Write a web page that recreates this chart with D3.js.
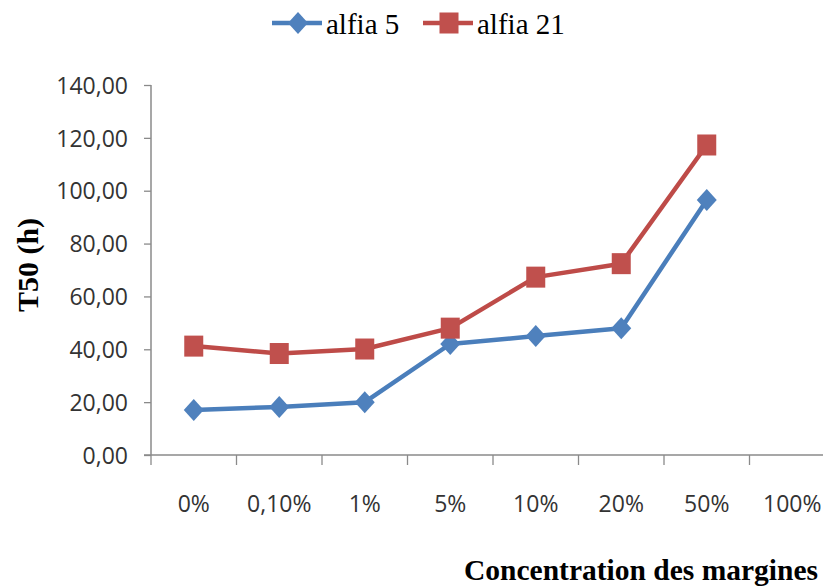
<!DOCTYPE html>
<html>
<head>
<meta charset="utf-8">
<script src="https://cdn.jsdelivr.net/npm/d3@7"></script>
<style>
  html, body { margin: 0; padding: 0; background: #fff; }
  svg { display: block; }
</style>
</head>
<body>
<svg id="chart" width="823" height="587"></svg>
<script>
// Concentration categories along the x axis
const categories = ["0%", "0,10%", "1%", "5%", "10%", "20%", "50%", "100%"];
// T50 (hours) for each variety; no measurement at 100%
const alfia5  = [17, 18.2, 20, 42, 45, 48, 96.5, null];
const alfia21 = [41.2, 38.4, 40.1, 48, 67.3, 72.4, 117.3, null];
const yTicks = [0, 20, 40, 60, 80, 100, 120, 140];

const series = [
  { name: "alfia 5",  values: alfia5,  line: "#4A7EBB", fill: "#4F81BD", shape: "diamond" },
  { name: "alfia 21", values: alfia21, line: "#BE4B48", fill: "#C0504D", shape: "square" }
];

const svg = d3.select("#chart");
const plotLeft = 151, plotBottom = 455, plotTop = 85;
const band = 85.5;

const x = d3.scaleBand().domain(categories).range([plotLeft, plotLeft + band * categories.length]).paddingInner(0).paddingOuter(0);
const y = d3.scaleLinear().domain([0, 140]).range([plotBottom, plotTop]);
const fmt = v => d3.format(".2f")(v).replace(".", ",");

const axisColor = "#8a8a8a";
const labelFont = "'Open Sans', sans-serif";
const titleFont = "'Liberation Serif', 'Times New Roman', serif";

// Y axis
const yAxis = svg.append("g")
  .attr("transform", `translate(${plotLeft},0)`)
  .call(d3.axisLeft(y).tickValues(yTicks).tickFormat(fmt).tickSize(7).tickPadding(16));
yAxis.select(".domain").attr("stroke", axisColor).attr("stroke-width", 1.5).attr("d", `M0,${plotTop}V${plotBottom}`);
yAxis.selectAll(".tick line").attr("stroke", axisColor).attr("stroke-width", 1.3);
yAxis.selectAll(".tick text")
  .attr("font-family", labelFont)
  .attr("font-size", 23)
  .attr("fill", "#333")
  .attr("dy", "0.36em");

// X axis with tick marks on category boundaries
const xAxis = svg.append("g").attr("transform", `translate(0,${plotBottom})`);
xAxis.append("line")
  .attr("x1", plotLeft - 7).attr("x2", 823)
  .attr("y1", 0).attr("y2", 0)
  .attr("stroke", axisColor).attr("stroke-width", 1.5);
xAxis.selectAll("line.tick")
  .data(categories)
  .join("line")
  .attr("class", "tick")
  .attr("x1", d => x(d)).attr("x2", d => x(d))
  .attr("y1", 0).attr("y2", 10)
  .attr("stroke", axisColor).attr("stroke-width", 1.3);
xAxis.selectAll("text")
  .data(categories)
  .join("text")
  .attr("x", d => x(d) + x.bandwidth() / 2)
  .attr("y", 57)
  .attr("text-anchor", "middle")
  .attr("font-family", labelFont)
  .attr("font-size", 23)
  .attr("fill", "#333")
  .text(d => d);

// Axis titles
svg.append("text")
  .attr("transform", "translate(38,265) rotate(-90)")
  .attr("text-anchor", "middle")
  .attr("font-family", titleFont)
  .attr("font-weight", "bold")
  .attr("font-size", 30)
  .attr("fill", "#000")
  .text("T50 (h)");

svg.append("text")
  .attr("x", 818)
  .attr("y", 580)
  .attr("text-anchor", "end")
  .attr("font-family", titleFont)
  .attr("font-weight", "bold")
  .attr("font-size", 29.5)
  .attr("fill", "#000")
  .text("Concentration des margines");

// Marker shapes
function marker(sel, s) {
  if (s.shape === "diamond") {
    sel.append("path")
      .attr("d", "M0,-11L10,0L0,11L-10,0Z")
      .attr("fill", s.fill);
  } else {
    sel.append("rect")
      .attr("x", -9.5).attr("y", -10.5)
      .attr("width", 19).attr("height", 21)
      .attr("fill", s.fill);
  }
}

// Lines and markers
const line = d3.line()
  .defined(d => d.v != null)
  .x(d => x(d.c) + x.bandwidth() / 2)
  .y(d => y(d.v));

series.forEach(s => {
  const pts = categories.map((c, i) => ({ c, v: s.values[i] }));
  svg.append("path")
    .datum(pts)
    .attr("fill", "none")
    .attr("stroke", s.line)
    .attr("stroke-width", 4.5)
    .attr("stroke-linejoin", "round")
    .attr("d", line);
  pts.filter(d => d.v != null).forEach(d => {
    const g = svg.append("g").attr("transform", `translate(${x(d.c) + x.bandwidth() / 2},${y(d.v)})`);
    marker(g, s);
  });
});

// Legend
const legendPos = [272, 423];
series.forEach((s, i) => {
  const g = svg.append("g").attr("transform", `translate(${legendPos[i]},23)`);
  g.append("line").attr("x1", 0).attr("x2", 50).attr("y1", 0).attr("y2", 0)
    .attr("stroke", s.line).attr("stroke-width", 4.5);
  marker(g.append("g").attr("transform", "translate(26,0)"), s);
  g.append("text")
    .attr("x", 54).attr("y", 11)
    .attr("font-family", titleFont)
    .attr("font-size", 29)
    .attr("fill", "#000")
    .text(s.name);
});
</script>
</body>
</html>
